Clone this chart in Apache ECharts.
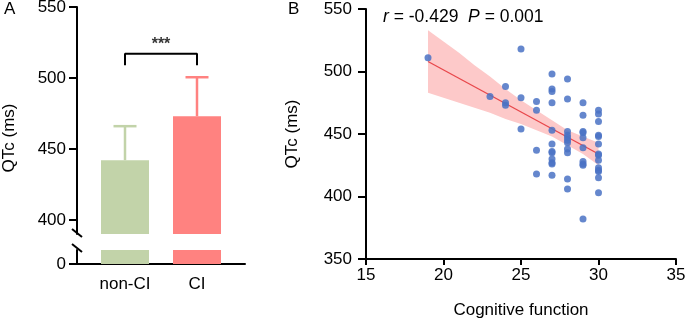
<!DOCTYPE html>
<html>
<head>
<meta charset="utf-8">
<script src="https://cdn.jsdelivr.net/npm/echarts@6/dist/echarts.min.js"></script>
<style>
html, body { margin: 0; padding: 0; background: #fff; }
#chart { width: 685px; height: 319px; }
</style>
</head>
<body>
<div id="chart"></div>
<script>
// panel A: QTc per group, mean + SD
const groups = ['non-CI', 'CI'];
const groupMean = [442, 473];
const groupSd = [24, 27.5];
const groupColors = ['#c2d3a9', '#ff8280'];
const bracketY = [509, 517];
const sigText = '***';
const yTicksA = [400, 450, 500, 550];

// panel B: QTc against cognitive function score
const cogScore = [
    19, 23, 24, 24, 24, 25, 25, 25, 26, 26, 26, 26,
    27, 27, 27, 27, 27, 27, 27, 27, 27, 27, 27, 27,
    28, 28, 28, 28, 28, 28, 28, 28, 28, 28, 28,
    29, 29, 29, 29, 29, 29, 29, 29, 29, 29,
    30, 30, 30, 30, 30, 30, 30, 30, 30, 30, 30, 30, 30, 30
];
const qtc = [
    511, 480, 488, 475, 473, 518, 479, 454, 476, 469, 437, 418,
    498, 486, 484, 475, 453, 442, 436, 435, 430, 427, 426, 417,
    494, 478, 452, 449, 447, 445, 443, 438, 435, 414, 406,
    475, 465, 452, 451, 447, 439, 428, 426, 425, 382,
    469, 466, 460, 449, 448, 442, 434, 433, 429, 423, 421, 420, 415, 403
];
const fitX = [19, 30];
const fitY = [508, 434];
const bandX = [19, 20, 21, 22, 23, 24, 25, 26, 27, 28, 29, 30];
const bandUpper = [533, 524, 515, 505, 496, 486, 477, 469, 461, 453, 448, 443];
const bandLower = [483, 479, 475, 471, 467, 462, 458, 453, 448, 441, 434, 425];
const rText = '-0.429';
const pText = '0.001';

// x positions of the two bars on panel A's value axis
const catPos = [2, 5];

const FONT = '"Liberation Sans", Arial, sans-serif';
const black = '#000';
const lbl = { color: black, fontSize: 17, fontFamily: FONT };

const chart = echarts.init(document.getElementById('chart'));

const barData = groups.map((g, i) => ({
    value: [catPos[i], groupMean[i]],
    itemStyle: { color: groupColors[i] }
}));

const option = {
    animation: false,
    backgroundColor: '#fff',
    grid: [
        { left: 77, top: 7, width: 168, height: 227, outerBoundsMode: 'none' },
        { left: 77, top: 250, width: 168, height: 14, outerBoundsMode: 'none' },
        { left: 366, top: 9, width: 310, height: 250, outerBoundsMode: 'none' }
    ],
    xAxis: [
        { gridIndex: 0, type: 'value', min: 0, max: 7, show: false },
        {
            gridIndex: 1, type: 'value', min: 0, max: 7,
            axisLine: { show: true, lineStyle: { color: black, width: 2 } },
            axisTick: { show: false },
            splitLine: { show: false },
            axisLabel: Object.assign({
                margin: 12,
                customValues: catPos,
                formatter: v => groups[catPos.indexOf(v)]
            }, lbl)
        },
        {
            gridIndex: 2, type: 'value', min: 15, max: 35, interval: 5,
            name: 'Cognitive function', nameLocation: 'middle', nameGap: 43,
            nameTextStyle: lbl,
            axisLine: { show: true, lineStyle: { color: black, width: 2 } },
            axisTick: { show: true, length: 6, lineStyle: { color: black, width: 2 } },
            splitLine: { show: false },
            axisLabel: Object.assign({ margin: 8, showMinLabel: true, showMaxLabel: true }, lbl)
        }
    ],
    yAxis: [
        {
            gridIndex: 0, type: 'value', min: 390, max: 550,
            axisLine: { show: true, lineStyle: { color: black, width: 2 } },
            axisTick: { show: true, length: 8, customValues: yTicksA, lineStyle: { color: black, width: 2 } },
            splitLine: { show: false },
            axisLabel: Object.assign({ margin: 11, customValues: yTicksA }, lbl)
        },
        {
            gridIndex: 1, type: 'value', min: 0, max: 10,
            axisLine: { show: true, lineStyle: { color: black, width: 2 } },
            axisTick: { show: true, length: 8, customValues: [0], lineStyle: { color: black, width: 2 } },
            splitLine: { show: false },
            axisLabel: Object.assign({ margin: 11, customValues: [0] }, lbl)
        },
        {
            gridIndex: 2, type: 'value', min: 350, max: 550, interval: 50,
            name: 'QTc (ms)', nameLocation: 'middle', nameGap: 65,
            nameTextStyle: lbl,
            axisLine: { show: true, lineStyle: { color: black, width: 2 } },
            axisTick: { show: true, length: 8, lineStyle: { color: black, width: 2 } },
            splitLine: { show: false },
            axisLabel: Object.assign({ margin: 14, showMinLabel: true, showMaxLabel: true }, lbl)
        }
    ],
    series: [
        // bars, upper part of the broken axis
        { type: 'bar', xAxisIndex: 0, yAxisIndex: 0, barWidth: 48, data: barData },
        // bars, lower part of the broken axis
        { type: 'bar', xAxisIndex: 1, yAxisIndex: 1, barWidth: 48, data: barData },
        // SD whiskers
        {
            type: 'custom', xAxisIndex: 0, yAxisIndex: 0,
            data: groups.map((g, i) => [catPos[i], groupMean[i], groupMean[i] + groupSd[i]]),
            renderItem: function (params, api) {
                const base = api.coord([api.value(0), api.value(1)]);
                const top = api.coord([api.value(0), api.value(2)]);
                const c = groupColors[params.dataIndex];
                const half = 11.5;
                return {
                    type: 'group',
                    children: [
                        { type: 'line', shape: { x1: base[0], y1: base[1], x2: top[0], y2: top[1] }, style: { stroke: c, lineWidth: 2.5 } },
                        { type: 'line', shape: { x1: top[0] - half, y1: top[1], x2: top[0] + half, y2: top[1] }, style: { stroke: c, lineWidth: 2.5 } }
                    ]
                };
            }
        },
        // significance bracket
        {
            type: 'line', xAxisIndex: 0, yAxisIndex: 0, symbol: 'none',
            lineStyle: { color: black, width: 2 },
            data: [[catPos[0], bracketY[0]], [catPos[0], bracketY[1]], [catPos[1], bracketY[1]], [catPos[1], bracketY[0]]]
        },
        {
            type: 'scatter', xAxisIndex: 0, yAxisIndex: 0, symbolSize: 0,
            data: [[(catPos[0] + catPos[1]) / 2, bracketY[1]]],
            label: { show: true, position: 'top', distance: 1, formatter: sigText, color: black, fontSize: 16, fontWeight: 'bold', fontFamily: FONT }
        },
        // 95% confidence band of the fit
        {
            type: 'custom', xAxisIndex: 2, yAxisIndex: 2, z: 1,
            data: [[bandX[0], bandLower[0]]],
            renderItem: function (params, api) {
                const pts = [];
                bandX.forEach((x, i) => pts.push(api.coord([x, bandUpper[i]])));
                for (let i = bandX.length - 1; i >= 0; i--) pts.push(api.coord([bandX[i], bandLower[i]]));
                return { type: 'polygon', shape: { points: pts }, style: { fill: '#fdc9c9' } };
            }
        },
        // regression line
        {
            type: 'line', xAxisIndex: 2, yAxisIndex: 2, symbol: 'none', z: 2,
            lineStyle: { color: '#e8474b', width: 1.3 },
            data: fitX.map((x, i) => [x, fitY[i]])
        },
        // points
        {
            type: 'scatter', xAxisIndex: 2, yAxisIndex: 2, symbolSize: 7, z: 3,
            itemStyle: { color: '#4a72c4', opacity: 0.85 },
            data: cogScore.map((x, i) => [x, qtc[i]])
        }
    ],
    graphic: [
        { type: 'text', x: 4, y: 1, style: { text: 'A', fill: black, fontSize: 17, fontFamily: FONT } },
        { type: 'text', x: 288, y: 1, style: { text: 'B', fill: black, fontSize: 17, fontFamily: FONT } },
        {
            type: 'text', x: 9, y: 138, rotation: Math.PI / 2,
            style: { text: 'QTc (ms)', fill: black, fontSize: 17, fontFamily: FONT, align: 'center', verticalAlign: 'middle' }
        },
        // axis break marks
        { type: 'line', shape: { x1: 72, y1: 229, x2: 82, y2: 237 }, style: { stroke: black, lineWidth: 2 } },
        { type: 'line', shape: { x1: 72, y1: 244, x2: 82, y2: 252 }, style: { stroke: black, lineWidth: 2 } },
        {
            type: 'text', x: 383, y: 17,
            style: {
                text: '{i|r} = ' + rText + '  {i|P} = ' + pText,
                fill: black, fontSize: 17.5, fontFamily: FONT, verticalAlign: 'middle',
                rich: { i: { fontStyle: 'italic', fontSize: 17.5, fontFamily: FONT, fill: black } }
            }
        }
    ]
};

chart.setOption(option);
</script>
</body>
</html>
